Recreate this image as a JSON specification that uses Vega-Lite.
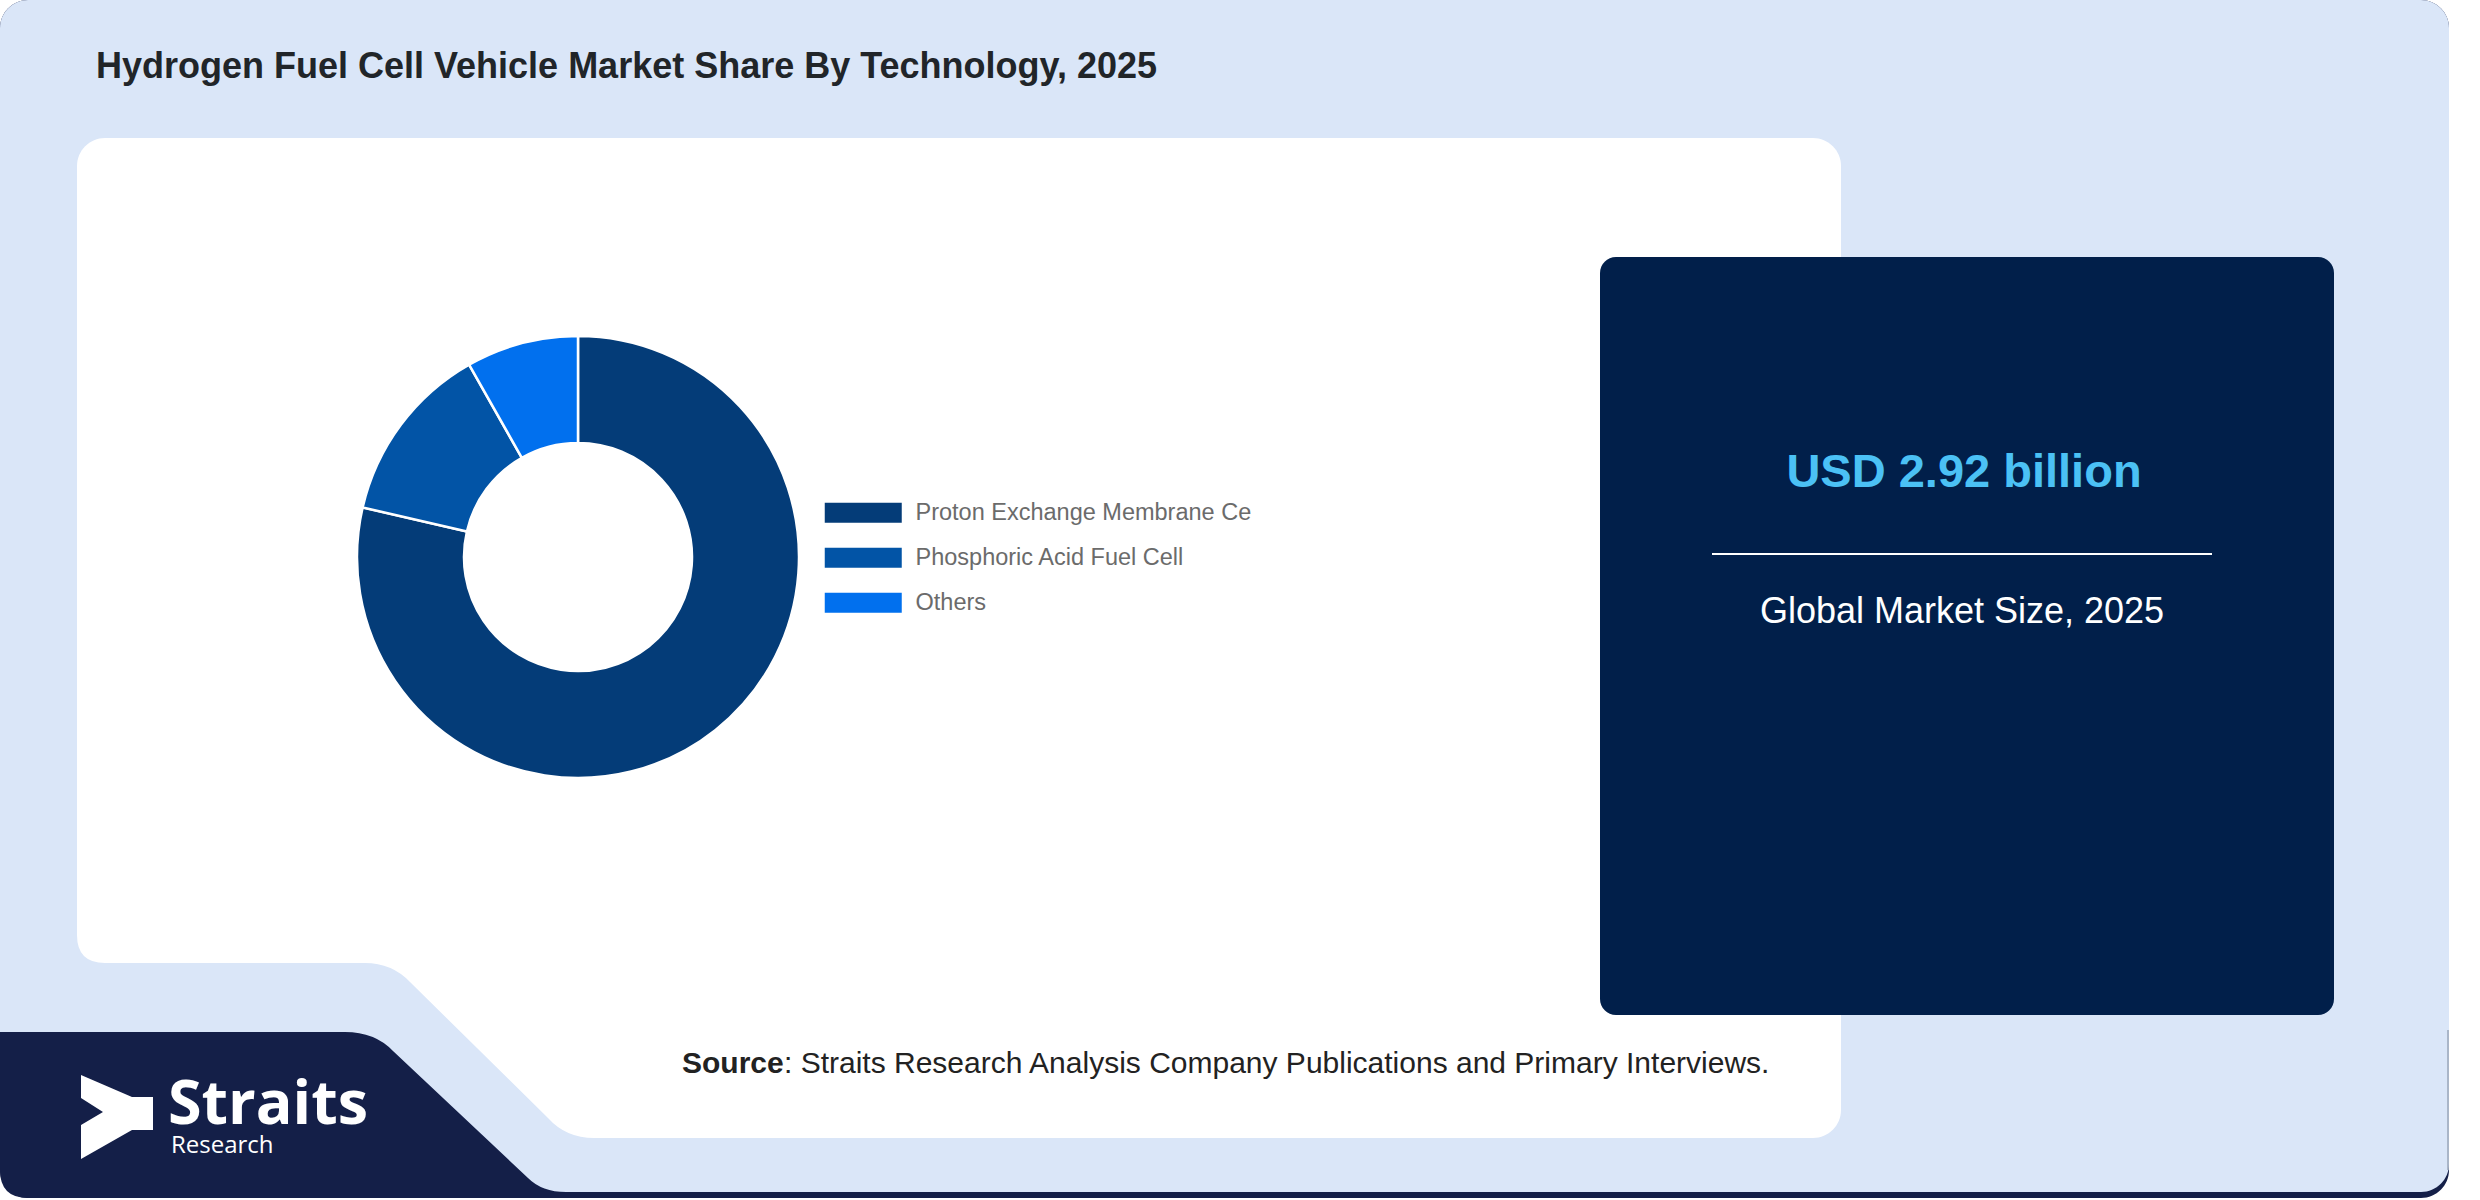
{
  "$schema": "https://vega.github.io/schema/vega-lite/v6.json",
  "width": 2480,
  "height": 1200,
  "autosize": {"type": "fit", "contains": "padding"},
  "padding": 0,
  "background": "#ffffff",
  "config": {
    "view": {"stroke": null},
    "font": "Liberation Sans"
  },
  "layer": [
    {
      "data": {"values": [{}]},
      "mark": {"type": "rect", "fill": "#141f48", "cornerRadius": 28},
      "encoding": {"x": {"value": 0}, "x2": {"value": 2449}, "y": {"value": 0}, "y2": {"value": 1198}}
    },
    {
      "data": {"values": [{}]},
      "mark": {"type": "rect", "fill": "#dae6f8", "cornerRadius": 28},
      "encoding": {"x": {"value": 0}, "x2": {"value": 2449}, "y": {"value": 0}, "y2": {"value": 1192}}
    },
    {
      "data": {"values": [{}]},
      "mark": {"type": "rule", "stroke": "#9aa6b8", "strokeWidth": 1.5},
      "encoding": {"x": {"value": 2448}, "y": {"value": 1030}, "y2": {"value": 1170}}
    },
    {
      "data": {"values": [{}]},
      "mark": {"type": "rect", "fill": "#ffffff", "cornerRadius": 28},
      "encoding": {"x": {"value": 77}, "x2": {"value": 1841}, "y": {"value": 138}, "y2": {"value": 1138}}
    },
    {
      "data": {"values": [{}]},
      "mark": {
        "type": "point",
        "shape": "M70,925L77,925L77,935Q77,963 105,963L365,963Q392,963 410,982L548,1118Q566,1138 594,1138L600,1138L600,1150L70,1150Z",
        "size": 4, "filled": true, "color": "#dae6f8", "opacity": 1, "strokeWidth": 0
      },
      "encoding": {"x": {"value": 0}, "y": {"value": 0}}
    },
    {
      "data": {"values": [{}]},
      "mark": {
        "type": "point",
        "shape": "M0,1032L345,1032Q375,1032 393,1051L528,1178Q542,1192 566,1192L566,1198L28,1198Q0,1198 0,1170Z",
        "size": 4, "filled": true, "color": "#141f48", "opacity": 1, "strokeWidth": 0
      },
      "encoding": {"x": {"value": 0}, "y": {"value": 0}}
    },
    {
      "data": {"values": [{}]},
      "mark": {
        "type": "point",
        "shape": "M81,1075L132,1097L153,1097L153,1130L132,1130L81,1159L81,1125L103,1112L81,1098Z",
        "size": 4, "filled": true, "color": "#ffffff", "opacity": 1, "strokeWidth": 0
      },
      "encoding": {"x": {"value": 0}, "y": {"value": 0}}
    },
    {
      "data": {"values": [{}]},
      "mark": {"type": "text", "text": "Straits", "font": "Open Sans", "fontWeight": "bold", "fontSize": 61, "color": "#ffffff", "align": "left", "baseline": "alphabetic"},
      "encoding": {"x": {"value": 168}, "y": {"value": 1124}}
    },
    {
      "data": {"values": [{}]},
      "mark": {"type": "text", "text": "Research", "font": "Open Sans", "fontSize": 24, "color": "#ffffff", "align": "left", "baseline": "alphabetic"},
      "encoding": {"x": {"value": 171}, "y": {"value": 1153}}
    },
    {
      "data": {"values": [{}]},
      "mark": {"type": "rect", "fill": "#011f4a", "cornerRadius": 16},
      "encoding": {"x": {"value": 1600}, "x2": {"value": 2334}, "y": {"value": 257}, "y2": {"value": 1015}}
    },
    {
      "data": {"values": [{}]},
      "mark": {"type": "text", "text": "Hydrogen Fuel Cell Vehicle Market Share By Technology, 2025", "fontSize": 36, "fontWeight": "bold", "color": "#212529", "align": "left", "baseline": "alphabetic"},
      "encoding": {"x": {"value": 96}, "y": {"value": 78}}
    },
    {
      "data": {"values": [{}]},
      "mark": {"type": "text", "text": "USD 2.92 billion", "fontSize": 47, "fontWeight": "bold", "color": "#4bc1f5", "align": "center", "baseline": "alphabetic"},
      "encoding": {"x": {"value": 1964}, "y": {"value": 487}}
    },
    {
      "data": {"values": [{}]},
      "mark": {"type": "rule", "stroke": "#ffffff", "strokeWidth": 2},
      "encoding": {"x": {"value": 1712}, "x2": {"value": 2212}, "y": {"value": 554}}
    },
    {
      "data": {"values": [{}]},
      "mark": {"type": "text", "text": "Global Market Size, 2025", "fontSize": 36, "color": "#ffffff", "align": "center", "baseline": "alphabetic"},
      "encoding": {"x": {"value": 1962}, "y": {"value": 623}}
    },
    {
      "data": {"values": [{}]},
      "mark": {"type": "text", "text": "Source", "fontSize": 30, "fontWeight": "bold", "color": "#222222", "align": "left", "baseline": "alphabetic"},
      "encoding": {"x": {"value": 682}, "y": {"value": 1073}}
    },
    {
      "data": {"values": [{}]},
      "mark": {"type": "text", "text": ": Straits Research Analysis Company Publications and Primary Interviews.", "fontSize": 30, "color": "#222222", "align": "left", "baseline": "alphabetic"},
      "encoding": {"x": {"value": 784}, "y": {"value": 1073}}
    },
    {
      "data": {
        "values": [
          {"technology": "Proton Exchange Membrane Cell", "share": 78.6},
          {"technology": "Phosphoric Acid Fuel Cell", "share": 13.2},
          {"technology": "Others", "share": 8.2}
        ]
      },
      "transform": [{"window": [{"op": "row_number", "as": "rank"}]}],
      "mark": {"type": "arc", "x": 578, "y": 557, "outerRadius": 221, "innerRadius": 114, "stroke": "#ffffff", "strokeWidth": 2.5},
      "encoding": {
        "theta": {"field": "share", "type": "quantitative", "stack": true},
        "order": {"field": "rank", "type": "quantitative"},
        "color": {
          "field": "technology",
          "type": "nominal",
          "scale": {
            "domain": ["Proton Exchange Membrane Cell", "Phosphoric Acid Fuel Cell", "Others"],
            "range": ["#043c78", "#0254a6", "#0170ee"]
          },
          "legend": {
            "title": null,
            "orient": "none",
            "legendX": 851.5,
            "legendY": 501,
            "padding": 0,
            "symbolType": "M-38.5,-10H38.5V10H-38.5Z",
            "symbolSize": 4,
            "symbolStrokeWidth": 0,
            "symbolOpacity": 1,
            "labelFont": "Liberation Sans",
            "labelFontSize": 23.5,
            "labelColor": "#6b6b6b",
            "labelOffset": 40.5,
            "labelLimit": 0,
            "labelExpr": "truncate(datum.label, 27, 'right', '')",
            "rowPadding": 20
          }
        }
      }
    }
  ]
}
